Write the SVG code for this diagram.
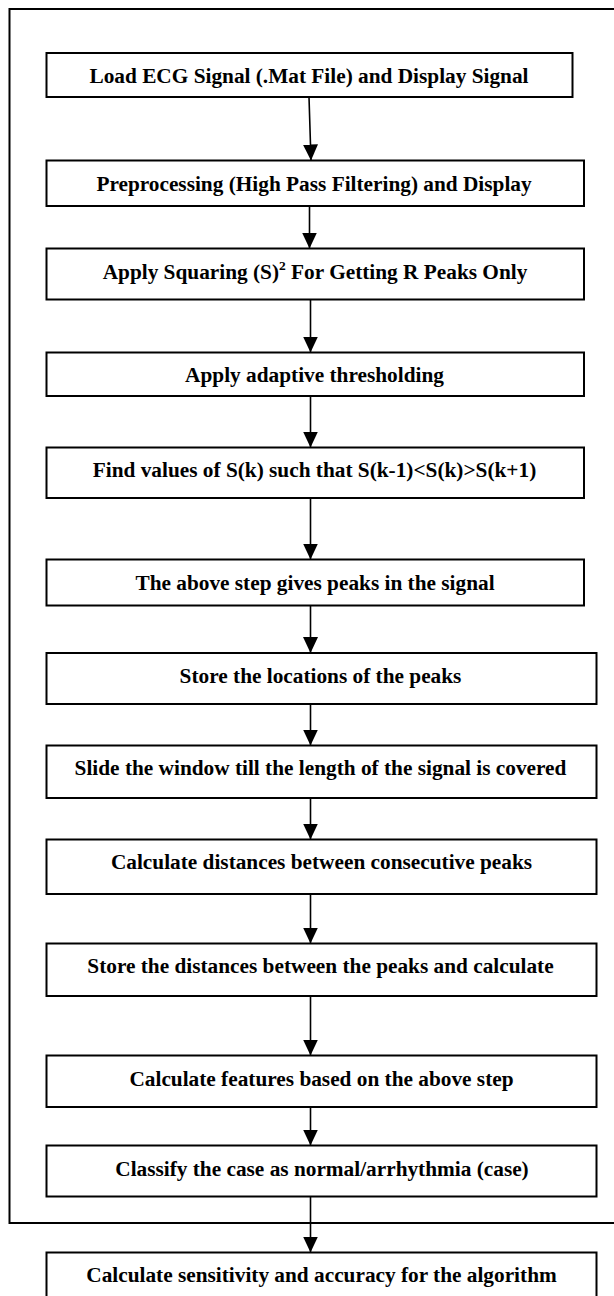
<svg xmlns="http://www.w3.org/2000/svg" width="614" height="1296" viewBox="0 0 614 1296">
<style>
.box{fill:#fff;stroke:#000;stroke-width:2}
.frame{fill:none;stroke:#000;stroke-width:2}
.lbl{font-family:"Liberation Serif","Times New Roman",serif;font-weight:bold;font-size:21.3px;fill:#000;text-anchor:middle}
.sup{font-size:13.5px}
.conn line{stroke:#000;stroke-width:1.6;fill:none}
</style>
<defs>
<marker id="ah" viewBox="0 0 16 15" refX="16" refY="7.5" markerWidth="16" markerHeight="15" markerUnits="userSpaceOnUse" orient="auto">
<path d="M0,0 L16,7.5 L0,15 z" fill="#000"/>
</marker>
</defs>
<rect width="614" height="1296" fill="#fff"/>
<rect id="frame" class="frame" x="9.5" y="9" width="620" height="1214"/>
<g id="connectors" class="conn">
<line x1="309" y1="97" x2="311" y2="160.5" marker-end="url(#ah)"/>
<line x1="309.5" y1="206" x2="309.5" y2="248.5" marker-end="url(#ah)"/>
<line x1="310.5" y1="299.5" x2="310.5" y2="352.5" marker-end="url(#ah)"/>
<line x1="310.5" y1="396" x2="310.5" y2="447.5" marker-end="url(#ah)"/>
<line x1="310.5" y1="498" x2="310.5" y2="559.5" marker-end="url(#ah)"/>
<line x1="310.5" y1="605.5" x2="310.5" y2="653" marker-end="url(#ah)"/>
<line x1="310.5" y1="704" x2="310.5" y2="745.5" marker-end="url(#ah)"/>
<line x1="310.5" y1="798" x2="310.5" y2="839.5" marker-end="url(#ah)"/>
<line x1="310.5" y1="894" x2="310.5" y2="943.5" marker-end="url(#ah)"/>
<line x1="310.5" y1="996" x2="310.5" y2="1055.5" marker-end="url(#ah)"/>
<line x1="310.5" y1="1107" x2="310.5" y2="1145.5" marker-end="url(#ah)"/>
<line x1="310.5" y1="1196.5" x2="310.5" y2="1252.5" marker-end="url(#ah)"/>
</g>
<g id="n1"><rect class="box" x="46.5" y="53" width="526" height="44"/><text class="lbl" x="309" y="83">Load ECG Signal (.Mat File) and Display Signal</text></g>
<g id="n2"><rect class="box" x="46.5" y="160.5" width="537.5" height="45.5"/><text class="lbl" x="314" y="190.7">Preprocessing (High Pass Filtering) and Display</text></g>
<g id="n3"><rect class="box" x="46.5" y="248.5" width="537.5" height="51"/><text class="lbl" x="315" y="278.5">Apply Squaring (S)<tspan class="sup" dy="-8.5">2</tspan><tspan dy="8.5"> For Getting R Peaks Only</tspan></text></g>
<g id="n4"><rect class="box" x="46.5" y="352.5" width="537.5" height="43.5"/><text class="lbl" x="314.5" y="382.3">Apply adaptive thresholding</text></g>
<g id="n5"><rect class="box" x="46.5" y="447.5" width="537.5" height="50.5"/><text class="lbl" x="314.5" y="477">Find values of S(k) such that S(k-1)&lt;S(k)&gt;S(k+1)</text></g>
<g id="n6"><rect class="box" x="46.5" y="559.5" width="537.5" height="46"/><text class="lbl" x="315" y="590">The above step gives peaks in the signal</text></g>
<g id="n7"><rect class="box" x="46.5" y="653" width="550" height="51"/><text class="lbl" x="320.5" y="683">Store the locations of the peaks</text></g>
<g id="n8"><rect class="box" x="46.5" y="745.5" width="550" height="52.5"/><text class="lbl" x="320.5" y="775">Slide the window till the length of the signal is covered</text></g>
<g id="n9"><rect class="box" x="46.5" y="839.5" width="550" height="54.5"/><text class="lbl" x="321.5" y="869">Calculate distances between consecutive peaks</text></g>
<g id="n10"><rect class="box" x="46.5" y="943.5" width="550" height="52.5"/><text class="lbl" x="320.5" y="973">Store the distances between the peaks and calculate</text></g>
<g id="n11"><rect class="box" x="46.5" y="1055.5" width="550" height="51.5"/><text class="lbl" x="321.5" y="1086">Calculate features based on the above step</text></g>
<g id="n12"><rect class="box" x="46.5" y="1145.5" width="550" height="51"/><text class="lbl" x="322" y="1176">Classify the case as normal/arrhythmia (case)</text></g>
<g id="n13"><rect class="box" x="46.5" y="1252.5" width="550" height="60"/><text class="lbl" x="321.5" y="1282">Calculate sensitivity and accuracy for the algorithm</text></g>
</svg>
